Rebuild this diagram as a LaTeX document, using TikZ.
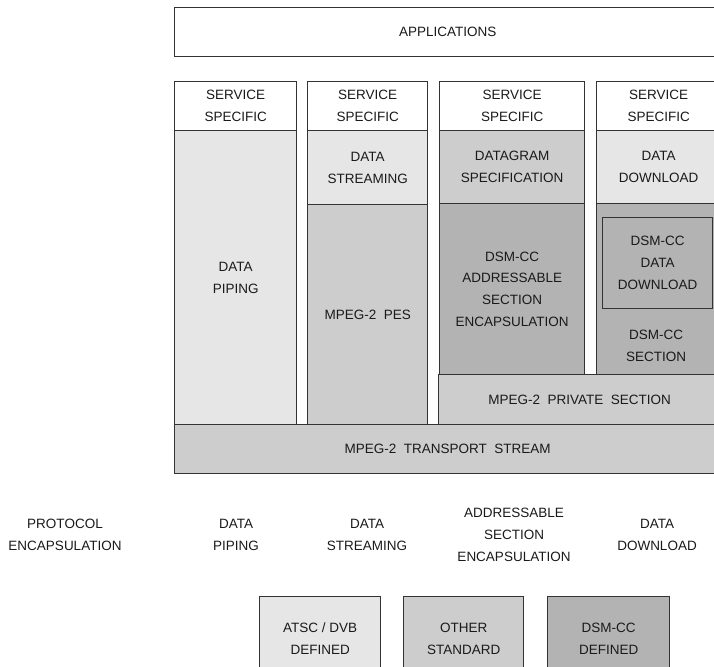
\documentclass[tikz,border=0pt]{standalone}
\usepackage{fontspec}
\setmainfont{Liberation Sans}
\definecolor{linec}{HTML}{333333}
\definecolor{txtc}{HTML}{1A1A1A}
\definecolor{gA}{HTML}{E6E6E6}
\definecolor{gB}{HTML}{CDCDCD}
\definecolor{gC}{HTML}{B3B3B3}
\newcommand{\lab}{\fontsize{13.5}{21.8}\selectfont}
\begin{document}
\begin{tikzpicture}[x=1pt,y=-1pt,
  blk/.style={draw=linec, line width=1.3pt, anchor=north west, inner sep=0pt,
    align=center, font=\lab, text=txtc},
  txt/.style={inner sep=0pt, align=center, font=\lab, text=txtc}]
\useasboundingbox (0,0) rectangle (714,666);
\clip (0,0) rectangle (714,666);
% top
\node[blk, fill=white, minimum width=546, minimum height=49] (app) at (174,7) {APPLICATIONS};
% column 1
\node[blk, fill=white, minimum width=122, minimum height=49] (ss1) at (174,81) {SERVICE\\SPECIFIC};
\node[blk, fill=gA, minimum width=122, minimum height=294] (dp) at (174,130) {DATA\\PIPING};
% column 2
\node[blk, fill=white, minimum width=120, minimum height=49] (ss2) at (307,81) {SERVICE\\SPECIFIC};
\node[blk, fill=gA, minimum width=120, minimum height=74] (ds) at (307,130) {DATA\\STREAMING};
\node[blk, fill=gB, minimum width=120, minimum height=220] (pes) at (307,204) {MPEG-2\ \ PES};
% column 3
\node[blk, fill=white, minimum width=145, minimum height=49] (ss3) at (439,81) {SERVICE\\SPECIFIC};
\node[blk, fill=gB, minimum width=145, minimum height=73] (dg) at (439,130) {DATAGRAM\\SPECIFICATION};
\node[blk, fill=gC, minimum width=145, minimum height=171] (dsa) at (439,203) {DSM-CC\\ADDRESSABLE\\SECTION\\ENCAPSULATION};
% column 4
\node[blk, fill=white, minimum width=124, minimum height=49] (ss4) at (596,81) {SERVICE\\SPECIFIC};
\node[blk, fill=gA, minimum width=124, minimum height=73] (dd) at (596,130) {DATA\\DOWNLOAD};
\node[blk, fill=gC, minimum width=124, minimum height=171] (dsec) at (596,203) {};
\node[blk, fill=gC, minimum width=110, minimum height=91] (ddl) at (602,217) {DSM-CC\\DATA\\DOWNLOAD};
\node[txt] (dsect) at (656,346) {DSM-CC\\SECTION};
% lower layers
\node[blk, fill=gB, minimum width=282, minimum height=50] (priv) at (438,374) {MPEG-2\ \ PRIVATE\ \ SECTION};
\node[blk, fill=gB, minimum width=546, minimum height=49] (ts) at (174,424) {MPEG-2\ \ TRANSPORT\ \ STREAM};
% protocol labels
\node[txt] (pe) at (65,535) {PROTOCOL\\ENCAPSULATION};
\node[txt] (lp) at (236,535) {DATA\\PIPING};
\node[txt] (ls) at (367,535) {DATA\\STREAMING};
\node[txt] (la) at (514,535) {ADDRESSABLE\\SECTION\\ENCAPSULATION};
\node[txt] (ld) at (657,535) {DATA\\DOWNLOAD};
% legend
\node[blk, fill=gA, minimum width=121, minimum height=84] (atsc) at (259,596) {ATSC / DVB\\DEFINED};
\node[blk, fill=gB, minimum width=120, minimum height=84] (oth) at (403,596) {OTHER\\STANDARD};
\node[blk, fill=gC, minimum width=122, minimum height=84] (dsmd) at (547,596) {DSM-CC\\DEFINED};
\end{tikzpicture}
\end{document}
